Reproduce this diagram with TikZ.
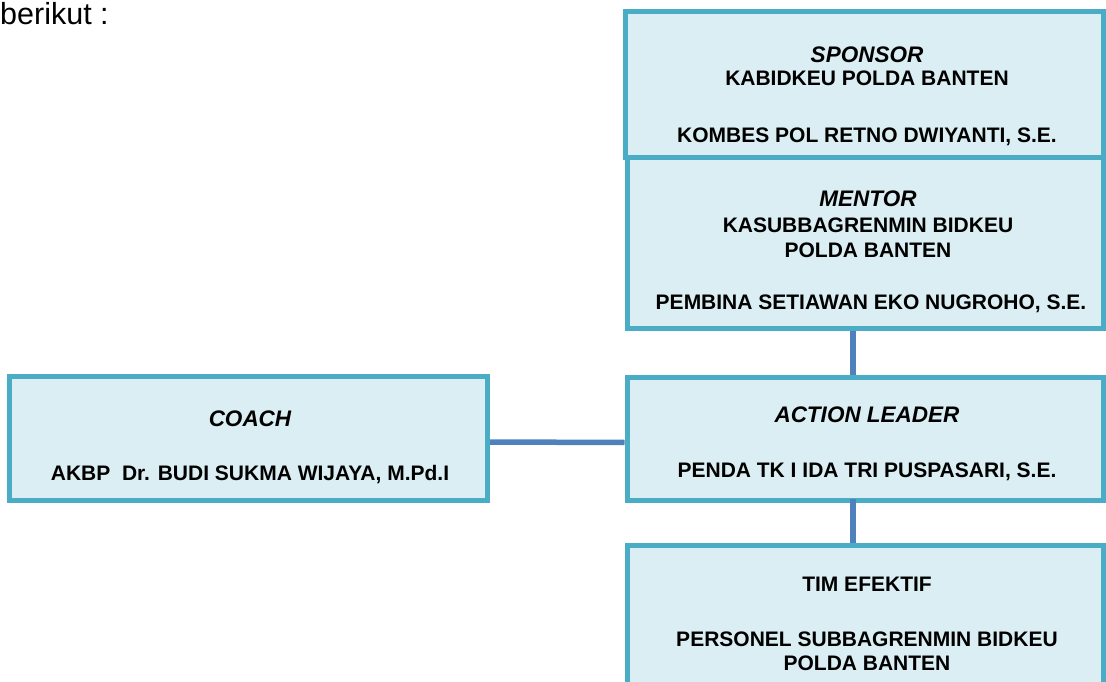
\documentclass[tikz,border=0pt]{standalone}
\usepackage{fontspec}
\setmainfont{Liberation Sans}
\usepackage{tikz}
\usetikzlibrary{positioning}
\definecolor{boxline}{HTML}{4BACC6}
\definecolor{boxfill}{HTML}{DAEEF3}
\definecolor{linkline}{HTML}{4F81BD}
\tikzset{
  box/.style={draw=boxline, fill=boxfill, line width=5pt, inner sep=0pt},
  link/.style={draw=linkline, line width=5.5pt},
  txt/.style={anchor=base, inner sep=0pt, font=\fontsize{21}{24}\selectfont\bfseries},
  ttl/.style={anchor=base, inner sep=0pt, font=\fontsize{22.5}{26}\selectfont\bfseries\itshape}
}

\begin{document}
\begin{tikzpicture}[x=1pt,y=-1pt]
        \useasboundingbox (0,0) rectangle (1106,682);
        \clip (0,0) rectangle (1106,682);
        \node (intro) at (0,25)[anchor=base west, inner sep=0pt, font=\fontsize{30.5}{34}\selectfont]{berikut :};
        % boxes
        \node (sponsor) at (864,85)[box, minimum width=478pt, minimum height=146pt]{};
        \node (mentor) at (865,243)[box, minimum width=476pt, minimum height=170pt]{};
        \node (action) at (865,438.5)[box, minimum width=476pt, minimum height=123pt]{};
        \node (coach) at (248.5,438)[box, minimum width=478pt, minimum height=124pt]{};
        \node (tim) at (865,625)[box, minimum width=476pt, minimum height=160pt]{};
        % connectors
        \draw [link]([xshift=-12pt]mentor.south)--([xshift=-12pt]action.north);
        \draw [link]([xshift=-12pt,yshift=4pt]action.south)--([xshift=-12pt]tim.north);
        \draw [link]([yshift=-4pt]coach.east)--([yshift=-4pt]action.west);
        % texts
        \node (sponsorT) at (867,63)[ttl]{SPONSOR};
        \node (sponsorA) at (867,86)[txt]{KABIDKEU POLDA BANTEN};
        \node (sponsorB) at (867,143)[txt]{KOMBES POL RETNO DWIYANTI, S.E.};
        \node (mentorT) at (868,206)[ttl]{MENTOR};
        \node (mentorA) at (868,232)[txt]{KASUBBAGRENMIN BIDKEU};
        \node (mentorB) at (868,257)[txt]{POLDA BANTEN};
        \node (mentorC) at (871,309)[txt]{PEMBINA SETIAWAN EKO NUGROHO, S.E.};
        \node (actionT) at (867,422)[ttl]{ACTION LEADER};
        \node (actionA) at (867,477)[txt]{PENDA TK I IDA TRI PUSPASARI, S.E.};
        \node (coachT) at (250,426)[ttl]{COACH};
        \node (coachA) at (250,480)[txt]{AKBP\ \ Dr. BUDI SUKMA WIJAYA, M.Pd.I};
        \node (timT) at (867,591)[txt]{TIM EFEKTIF};
        \node (timA) at (867,646)[txt]{PERSONEL SUBBAGRENMIN BIDKEU};
        \node (timB) at (867,670)[txt]{POLDA BANTEN};
\end{tikzpicture}
\end{document}
